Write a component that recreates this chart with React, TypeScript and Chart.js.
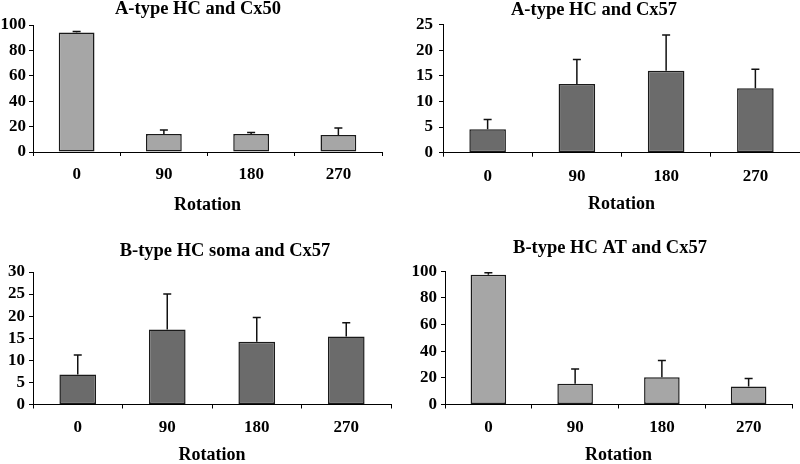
import React, { useEffect, useRef } from "react";
import { Chart, registerables } from "chart.js";

Chart.register(...registerables);

// ---- data ----
const categories = ["0", "90", "180", "270"];

const titleA50 = "A-type HC and Cx50";
const valuesA50 = [94.0, 14.2, 14.2, 13.4];
const errorsA50 = [0.8, 3.2, 1.1, 5.5];
const ticksA50 = { max: 100, step: 20 };

const titleA57 = "A-type HC and Cx57";
const valuesA57 = [4.6, 13.4, 16.0, 12.6];
const errorsA57 = [1.9, 4.8, 7.0, 3.7];
const ticksA57 = { max: 25, step: 5 };

const titleBSoma = "B-type HC soma and Cx57";
const valuesBSoma = [6.8, 17.0, 14.2, 15.4];
const errorsBSoma = [4.4, 8.0, 5.5, 3.1];
const ticksBSoma = { max: 30, step: 5 };

const titleBAT = "B-type HC AT and Cx57";
const valuesBAT = [97.5, 15.5, 20.5, 13.5];
const errorsBAT = [1.5, 11.2, 12.5, 6.0];
const ticksBAT = { max: 100, step: 20 };

const xTitle = "Rotation";

const FONT = "'Liberation Serif', 'Times New Roman', Times, serif";
const LIGHT = "#a6a6a6";
const DARK = "#6b6b6b";
const TITLE_SIZE = 18.5;

const errorBarPlugin = {
  id: "errorBars",
  afterDatasetsDraw(chart: any) {
    const ctx = chart.ctx;
    chart.data.datasets.forEach((ds: any, di: number) => {
      const meta = chart.getDatasetMeta(di);
      const yScale = chart.scales[meta.yAxisID];
      const errs = ds.errors || [];
      meta.data.forEach((bar: any, i: number) => {
        const v = ds.data[i];
        const e = errs[i] || 0;
        const yBar = yScale.getPixelForValue(v);
        const yTop = yScale.getPixelForValue(v + e);
        ctx.save();
        ctx.strokeStyle = "#111";
        ctx.lineWidth = 1.5;
        ctx.beginPath();
        ctx.moveTo(bar.x, yBar);
        ctx.lineTo(bar.x, yTop);
        ctx.moveTo(bar.x - 4, yTop);
        ctx.lineTo(bar.x + 4, yTop);
        ctx.stroke();
        ctx.restore();
      });
    });
  },
};

type PanelProps = {
  left: number;
  top: number;
  width: number;
  height: number;
  title: string;
  titleCenter: number;
  values: number[];
  errors: number[];
  yMax: number;
  yStep: number;
  color: string;
  yWidth: number;
  xHeight: number;
  padRight: number;
  titlePadTop: number;
  titlePadBottom: number;
  xTickPad: number;
  yTickPad: number;
  xTitlePadBottom: number;
};

function Panel(p: PanelProps) {
  const ref = useRef<HTMLCanvasElement>(null);
  useEffect(() => {
    if (!ref.current) return;
    const titleShift = {
      id: "titleShift",
      afterLayout(chart: any) {
        const tb = chart.titleBlock;
        if (!tb) return;
        const half = 190;
        tb.left = p.titleCenter - half;
        tb.right = p.titleCenter + half;
        tb.width = half * 2;
      },
    };
    const chart = new Chart(ref.current, {
      type: "bar",
      data: {
        labels: categories,
        datasets: [
          {
            data: p.values,
            errors: p.errors,
            backgroundColor: p.color,
            borderColor: "#1a1a1a",
            borderWidth: 1.5,
            borderSkipped: false,
            barPercentage: 0.41,
            categoryPercentage: 1,
          } as any,
        ],
      },
      options: {
        responsive: false,
        animation: false,
        devicePixelRatio: 1,
        layout: { padding: { left: 0, right: p.padRight, top: 0, bottom: 0 } },
        plugins: {
          legend: { display: false },
          tooltip: { enabled: false },
          title: {
            display: true,
            text: p.title,
            color: "#000",
            font: { family: FONT, size: TITLE_SIZE, weight: "bold", lineHeight: 1 },
            padding: { top: p.titlePadTop, bottom: p.titlePadBottom },
          },
        },
        scales: {
          x: {
            grid: {
              display: true,
              drawOnChartArea: false,
              drawTicks: true,
              tickLength: 4,
              color: "#000",
              offset: true,
            },
            border: { display: true, color: "#000", width: 1 },
            ticks: {
              color: "#000",
              padding: p.xTickPad,
              maxRotation: 0,
              autoSkip: false,
              font: { family: FONT, size: 17, weight: "bold", lineHeight: 1 },
            },
            title: {
              display: true,
              text: xTitle,
              color: "#000",
              font: { family: FONT, size: 18, weight: "bold", lineHeight: 1 },
              padding: { top: 0, bottom: p.xTitlePadBottom },
            },
            afterFit: (scale: any) => {
              scale.height = p.xHeight;
            },
          },
          y: {
            min: 0,
            max: p.yMax,
            grid: {
              display: true,
              drawOnChartArea: false,
              drawTicks: true,
              tickLength: 4,
              color: "#000",
            },
            border: { display: true, color: "#000", width: 1 },
            ticks: {
              stepSize: p.yStep,
              color: "#000",
              padding: p.yTickPad,
              font: { family: FONT, size: 17, weight: "bold", lineHeight: 1 },
            },
            afterFit: (scale: any) => {
              scale.width = p.yWidth;
            },
          },
        },
      } as any,
      plugins: [errorBarPlugin, titleShift],
    });
    return () => chart.destroy();
  }, []);
  return (
    <div
      style={{
        position: "absolute",
        left: p.left,
        top: p.top,
        width: p.width,
        height: p.height,
      }}
    >
      <canvas
        ref={ref}
        width={p.width}
        height={p.height}
        style={{ width: p.width, height: p.height, display: "block" }}
      />
    </div>
  );
}

export default function App() {
  return (
    <div
      style={{
        position: "fixed",
        left: 0,
        top: 0,
        width: 800,
        height: 464,
        overflow: "hidden",
        background: "#fff",
      }}
    >
      <Panel
        left={0}
        top={0}
        width={396}
        height={232}
        title={titleA50}
        titleCenter={198}
        values={valuesA50}
        errors={errorsA50}
        yMax={ticksA50.max}
        yStep={ticksA50.step}
        color={LIGHT}
        yWidth={33}
        xHeight={80}
        padRight={14}
        titlePadTop={0.25}
        titlePadBottom={6.25}
        xTickPad={10}
        yTickPad={3}
        xTitlePadBottom={18}
      />
      <Panel
        left={388}
        top={0}
        width={412}
        height={232}
        title={titleA57}
        titleCenter={206}
        values={valuesA57}
        errors={errorsA57}
        yMax={ticksA57.max}
        yStep={ticksA57.step}
        color={DARK}
        yWidth={55}
        xHeight={79.3}
        padRight={0}
        titlePadTop={1.25}
        titlePadBottom={4.95}
        xTickPad={11.5}
        yTickPad={6}
        xTitlePadBottom={19}
      />
      <Panel
        left={0}
        top={232}
        width={400}
        height={232}
        title={titleBSoma}
        titleCenter={225}
        values={valuesBSoma}
        errors={errorsBSoma}
        yMax={ticksBSoma.max}
        yStep={ticksBSoma.step}
        color={DARK}
        yWidth={33}
        xHeight={59.5}
        padRight={9}
        titlePadTop={10.25}
        titlePadBottom={11.25}
        xTickPad={10.5}
        yTickPad={4}
        xTitlePadBottom={0}
      />
      <Panel
        left={392}
        top={232}
        width={408}
        height={232}
        title={titleBAT}
        titleCenter={218}
        values={valuesBAT}
        errors={errorsBAT}
        yMax={ticksBAT.max}
        yStep={ticksBAT.step}
        color={LIGHT}
        yWidth={53}
        xHeight={59.5}
        padRight={8}
        titlePadTop={7.25}
        titlePadBottom={13.55}
        xTickPad={10.5}
        yTickPad={4}
        xTitlePadBottom={0}
      />
    </div>
  );
}
